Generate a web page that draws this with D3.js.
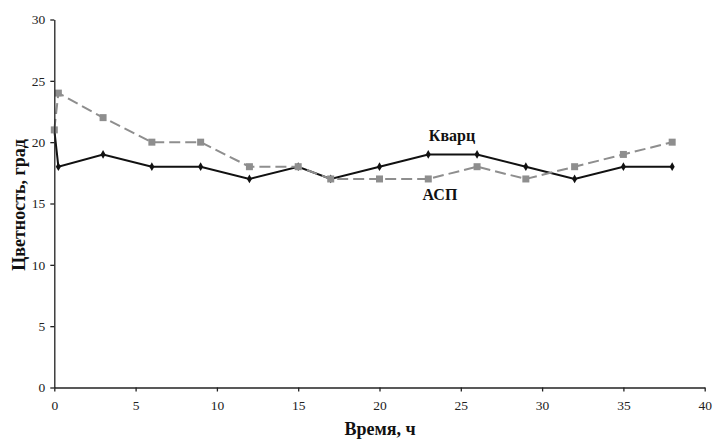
<!DOCTYPE html>
<html><head><meta charset="utf-8">
<script src="https://cdn.jsdelivr.net/npm/d3@7"></script>
<style>body{margin:0;background:#fff}svg{display:block}</style>
</head><body>
<svg id="c" width="713" height="439"></svg>
<script>
const timesKvarts = [0, 0.25, 3, 6, 9, 12, 15, 17, 20, 23, 26, 29, 32, 35, 38];
const valuesKvarts = [21, 18, 19, 18, 18, 17, 18, 17, 18, 19, 19, 18, 17, 18, 18];
const timesASP = [0, 0.25, 3, 6, 9, 12, 15, 17, 20, 23, 26, 29, 32, 35, 38];
const valuesASP = [21, 24, 22, 20, 20, 18, 18, 17, 17, 17, 18, 17, 18, 19, 20];
const xTicks = [0, 5, 10, 15, 20, 25, 30, 35, 40];
const yTicks = [0, 5, 10, 15, 20, 25, 30];

const svg = d3.select("#c");
const x = d3.scaleLinear().domain([0, 40]).range([54.3, 704.7]);
const y = d3.scaleLinear().domain([0, 30]).range([387.5, 19.5]);
const font = "'Liberation Serif', 'Times New Roman', serif";

const dASP = timesASP.map((t, i) => [t, valuesASP[i]]);
const dK = timesKvarts.map((t, i) => [t, valuesKvarts[i]]);
const line = d3.line().x(d => x(d[0])).y(d => y(d[1]));

svg.append("path").datum(dK).attr("d", line).attr("fill", "none")
  .attr("stroke", "#111").attr("stroke-width", 2);
svg.append("g").selectAll("path").data(dK.slice(1)).join("path")
  .attr("d", d3.symbol(d3.symbolDiamond, 22))
  .attr("transform", d => `translate(${x(d[0])},${y(d[1])})`).attr("fill", "#111");

svg.append("path").datum(dASP).attr("d", line).attr("fill", "none")
  .attr("stroke", "#8e8e8e").attr("stroke-width", 2).attr("stroke-dasharray", "11,5");
svg.append("g").selectAll("rect").data(dASP).join("rect")
  .attr("x", d => x(d[0]) - 3.5).attr("y", d => y(d[1]) - 3.5)
  .attr("width", 7).attr("height", 7).attr("fill", "#8e8e8e");

const xa = svg.append("g").attr("transform", `translate(0,${y(0)})`)
  .call(d3.axisBottom(x).tickValues(xTicks).tickSize(4).tickPadding(9).tickSizeOuter(0));
const ya = svg.append("g").attr("transform", `translate(${x(0)},0)`)
  .call(d3.axisLeft(y).tickValues(yTicks).tickSize(4).tickPadding(5).tickSizeOuter(0));
[xa, ya].forEach(a => {
  a.selectAll("path,line").attr("stroke", "#222").attr("stroke-width", 1.3);
  a.selectAll("text").attr("font-family", font).attr("font-size", 13.5).attr("fill", "#222");
});

svg.append("text").attr("x", 452).attr("y", 141).attr("text-anchor", "middle")
  .attr("font-family", font).attr("font-weight", "bold").attr("font-size", 16).attr("fill", "#111").text("Кварц");
svg.append("text").attr("x", 440).attr("y", 200).attr("text-anchor", "middle")
  .attr("font-family", font).attr("font-weight", "bold").attr("font-size", 16).attr("fill", "#111").text("АСП");

svg.append("text").attr("x", 380).attr("y", 435).attr("text-anchor", "middle")
  .attr("font-family", font).attr("font-weight", "bold").attr("font-size", 18).attr("fill", "#111").text("Время, ч");
svg.append("text").attr("transform", "translate(25,205) rotate(-90)").attr("text-anchor", "middle")
  .attr("font-family", font).attr("font-weight", "bold").attr("font-size", 18).attr("fill", "#111").text("Цветность, град");
</script>
</body></html>
